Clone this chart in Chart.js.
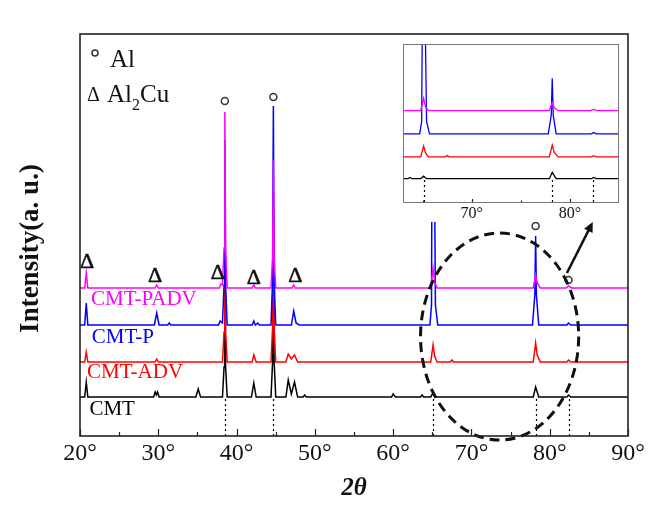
<!doctype html>
<html lang="en">
<head>
<meta charset="utf-8">
<title>XRD patterns</title>
<script src="https://cdn.jsdelivr.net/npm/chart.js"></script>
<style>
  body { margin: 0; background: #fff; }
  #wrap { position: relative; width: 655px; height: 513px; }
  #main { position: absolute; left: 0; top: 0; }
  #inset { position: absolute; left: 398px; top: 40px; background: #fff; }
</style>
</head>
<body>
<div id="wrap">
  <canvas id="main" width="655" height="513"></canvas>
  <canvas id="inset" width="226" height="182"></canvas>
</div>
<script>
// intensities (a.u., relative to each pattern's own baseline)
const cmtPadv = [[20,0],[20.6,0],[20.8,15],[21.0,0],[29.6,0],[29.8,3],[30.0,0],
  [37.8,0],[38.0,4],[38.2,3],[38.4,40],[38.5,176],[38.6,40],[38.8,0],
  [42.0,0],[42.2,3],[42.4,0],[44.4,0],[44.6,30],[44.7,128],[44.8,30],[45.0,0],
  [47.1,0],[47.3,3],[47.5,0],[64.8,0],[65.1,20],[65.3,6],[65.6,0],
  [77.9,0],[78.2,13],[78.4,5],[78.8,0],[82.1,0],[82.4,2],[82.8,0],[90,0]];
const cmtP = [[20,0],[20.6,0],[20.8,22],[21.0,0],[29.5,0],[29.8,12],[30.1,0],
  [31.2,0],[31.4,2],[31.6,0],[37.7,0],[37.9,4],[38.2,2],[38.4,40],[38.5,185],[38.6,40],[38.8,0],
  [42.0,0],[42.2,4],[42.4,0],[42.7,2],[42.9,0],[44.4,0],[44.6,45],[44.7,219],[44.8,45],[45.0,0],
  [47.0,0],[47.3,14],[47.6,2],[48.0,0],
  [64.7,0],[64.9,20],[65.0,260],[65.12,200],[65.2,250],[65.4,20],[65.7,0],
  [77.8,0],[78.1,30],[78.2,89],[78.3,30],[78.6,0],[82.2,0],[82.4,2],[82.7,0],[90,0]];
const cmtAdv = [[20,0],[20.6,0],[20.8,10],[21.0,0],[29.6,0],[29.8,3],[30.0,0],
  [38.2,0],[38.4,30],[38.5,150],[38.6,30],[38.8,0],[42.0,0],[42.2,7],[42.5,0],
  [44.4,0],[44.6,35],[44.7,170],[44.8,35],[45.0,0],[46.3,0],[46.6,8],[47.0,3],[47.4,7],[47.8,0],
  [64.8,0],[65.1,17],[65.3,6],[65.6,0],[67.3,0],[67.5,2],[67.7,0],
  [77.9,0],[78.2,19],[78.4,7],[78.8,0],[82.2,0],[82.4,2],[82.7,0],[90,0]];
const cmt = [[20,0],[20.6,0],[20.8,15],[21.0,0],[29.4,0],[29.6,5],[29.75,2],[29.9,5],[30.1,0],
  [34.8,0],[35.1,8],[35.4,0],[38.2,0],[38.4,30],[38.5,140],[38.6,30],[38.8,0],
  [41.9,0],[42.2,14],[42.5,0],[44.4,0],[44.6,35],[44.7,160],[44.8,35],[45.0,0],
  [46.3,0],[46.6,17],[47.0,3],[47.4,15],[47.8,0],[48.5,0],[48.7,2],[48.9,0],
  [59.8,0],[60.0,3],[60.3,0],[63.5,0],[63.7,2],[63.9,0],[64.8,0],[65.1,4],[65.4,0],
  [77.9,0],[78.2,10],[78.6,0],[82.2,0],[82.4,2],[82.7,0],[90,0]];

const seriesNames = ['CMT-PADV', 'CMT-P', 'CMT-ADV', 'CMT'];
const seriesData = [cmtPadv, cmtP, cmtAdv, cmt];
const seriesColors = ['#ff00ff', '#0000ff', '#ff0000', '#000000'];
const offsets = [148, 111, 74, 39];
const labelPos = [[21.4, 137], [21.5, 99], [20.9, 64], [21.2, 27]];

const xTicks = [20, 30, 40, 50, 60, 70, 80, 90];
const xMinor = [25, 35, 45, 55, 65, 75, 85];
const insetTicks = [70, 80];
const insetMinor = [65, 75];

const refLines = [38.5, 44.7, 65.1, 78.2, 82.4];
const alMarks = [[38.5, 335], [44.7, 339], [78.2, 210], [82.4, 156]];
const al2cuMarks = [[20.9, 174], [29.6, 160], [37.6, 163], [42.2, 158], [47.5, 160]];

const serif = "'Liberation Serif', 'Times New Roman', serif";

function makeSets(lw) {
  return seriesNames.map((name, i) => ({
    label: name,
    data: seriesData[i].map(p => ({ x: p[0], y: p[1] + offsets[i] })),
    borderColor: seriesColors[i],
    borderWidth: lw,
    pointRadius: 0,
    tension: 0,
    fill: false
  }));
}

function drawRefLines(chart) {
  const { ctx, chartArea: a, scales: { x, y } } = chart;
  ctx.save();
  ctx.strokeStyle = '#000';
  ctx.lineWidth = 1.2;
  ctx.setLineDash([2, 3]);
  refLines.forEach(v => {
    if (v < x.min || v > x.max) return;
    const px = Math.round(x.getPixelForValue(v)) + 0.5;
    ctx.beginPath();
    ctx.moveTo(px, y.getPixelForValue(offsets[3] - 2));
    ctx.lineTo(px, a.bottom);
    ctx.stroke();
  });
  ctx.restore();
}

function drawTicks(chart, major, minor, lMaj, lMin) {
  const { ctx, chartArea: a, scales: { x } } = chart;
  ctx.save();
  ctx.strokeStyle = '#222';
  ctx.lineWidth = 1.2;
  major.forEach(v => {
    const px = Math.round(x.getPixelForValue(v)) + 0.5;
    ctx.beginPath(); ctx.moveTo(px, a.bottom); ctx.lineTo(px, a.bottom - lMaj); ctx.stroke();
  });
  minor.forEach(v => {
    const px = Math.round(x.getPixelForValue(v)) + 0.5;
    ctx.beginPath(); ctx.moveTo(px, a.bottom); ctx.lineTo(px, a.bottom - lMin); ctx.stroke();
  });
  ctx.restore();
}

function circleMark(ctx, cx, cy, r) {
  ctx.beginPath();
  ctx.arc(cx, cy, r, 0, Math.PI * 2);
  ctx.stroke();
}

const mainDecor = {
  id: 'mainDecor',
  afterDatasetsDraw(chart) {
    const { ctx, chartArea: a, scales: { x, y } } = chart;
    drawRefLines(chart);
    drawTicks(chart, xTicks, xMinor, 7, 4);

    ctx.save();
    // phase markers
    ctx.strokeStyle = '#333';
    ctx.lineWidth = 1.5;
    alMarks.forEach(m => circleMark(ctx, x.getPixelForValue(m[0]), y.getPixelForValue(m[1]), 3.5));
    ctx.fillStyle = '#111';
    ctx.strokeStyle = '#111';
    ctx.lineWidth = 0.6;
    ctx.font = '22px ' + serif;
    ctx.textAlign = 'center';
    ctx.textBaseline = 'middle';
    al2cuMarks.forEach(m => {
      const px = x.getPixelForValue(m[0]), py = y.getPixelForValue(m[1]);
      ctx.fillText('Δ', px, py);
      ctx.strokeText('Δ', px, py);
    });

    // pattern names
    ctx.textAlign = 'left';
    ctx.font = '21px ' + serif;
    seriesNames.forEach((n, i) => {
      ctx.fillStyle = seriesColors[i];
      ctx.fillText(n, x.getPixelForValue(labelPos[i][0]), y.getPixelForValue(labelPos[i][1]));
    });

    // key
    ctx.fillStyle = '#111';
    ctx.strokeStyle = '#333';
    ctx.lineWidth = 1.5;
    ctx.textBaseline = 'alphabetic';
    circleMark(ctx, a.left + 15, a.top + 19, 3);
    ctx.font = '25px ' + serif;
    ctx.fillText('Al', a.left + 30, a.top + 33);
    ctx.font = '20px ' + serif;
    ctx.textAlign = 'center';
    ctx.fillText('Δ', a.left + 13.5, a.top + 67);
    ctx.textAlign = 'left';
    let tx = a.left + 27;
    ctx.font = '25px ' + serif;
    ctx.fillText('Al', tx, a.top + 68);
    tx += ctx.measureText('Al').width;
    ctx.font = '16px ' + serif;
    ctx.fillText('2', tx, a.top + 76);
    tx += ctx.measureText('2').width;
    ctx.font = '25px ' + serif;
    ctx.fillText('Cu', tx, a.top + 68);

    // dashed ellipse around the high-angle region
    const cx = x.getPixelForValue(73.6), cy = y.getPixelForValue(99.5);
    const rx = x.getPixelForValue(73.6 + 10.1) - cx;
    const ry = cy - y.getPixelForValue(99.5 + 103.5);
    ctx.strokeStyle = '#111';
    ctx.lineWidth = 3;
    ctx.setLineDash([10, 6]);
    ctx.beginPath();
    ctx.ellipse(cx, cy, rx, ry, 0, 0, Math.PI * 2);
    ctx.stroke();
    ctx.setLineDash([]);

    // arrow to the inset
    const x1 = x.getPixelForValue(82.2), y1 = y.getPixelForValue(163);
    const x2 = x.getPixelForValue(85.5), y2 = y.getPixelForValue(214);
    const ang = Math.atan2(y2 - y1, x2 - x1);
    ctx.lineWidth = 2.5;
    ctx.beginPath(); ctx.moveTo(x1, y1); ctx.lineTo(x2 - 4 * Math.cos(ang), y2 - 4 * Math.sin(ang)); ctx.stroke();
    ctx.fillStyle = '#111';
    ctx.beginPath();
    ctx.moveTo(x2, y2);
    ctx.lineTo(x2 - 11 * Math.cos(ang - 0.45), y2 - 11 * Math.sin(ang - 0.45));
    ctx.lineTo(x2 - 11 * Math.cos(ang + 0.45), y2 - 11 * Math.sin(ang + 0.45));
    ctx.closePath();
    ctx.fill();

    // frame
    ctx.strokeStyle = '#222';
    ctx.lineWidth = 1.6;
    ctx.strokeRect(a.left, a.top, a.right - a.left, a.bottom - a.top);
    ctx.restore();
  }
};

const insetDecor = {
  id: 'insetDecor',
  beforeDraw(chart) {
    const { ctx, width, height } = chart;
    ctx.save();
    ctx.fillStyle = '#fff';
    ctx.fillRect(0, 0, width, height);
    ctx.restore();
  },
  afterDatasetsDraw(chart) {
    const { ctx, chartArea: a } = chart;
    drawRefLines(chart);
    drawTicks(chart, insetTicks, insetMinor, 4, 2.5);
    ctx.save();
    ctx.strokeStyle = '#777';
    ctx.lineWidth = 1;
    ctx.strokeRect(a.left + 0.5, a.top + 0.5, a.right - a.left - 1, a.bottom - a.top - 1);
    ctx.restore();
  }
};

new Chart(document.getElementById('main'), {
  type: 'line',
  data: { datasets: makeSets(1.5) },
  options: {
    responsive: false,
    animation: false,
    layout: { padding: { top: 34, right: 27, left: 0, bottom: 0 } },
    plugins: { legend: { display: false }, tooltip: { enabled: false } },
    scales: {
      x: {
        type: 'linear', min: 20, max: 90,
        afterBuildTicks: s => { s.ticks = xTicks.map(v => ({ value: v })); },
        afterFit: s => { s.height = 77; },
        grid: { display: false, drawTicks: false },
        border: { display: false },
        ticks: { color: '#111', padding: 3, maxRotation: 0, font: { family: serif, size: 24 }, callback: v => v + '°' },
        title: { display: true, text: '2θ', color: '#111', padding: { top: 0, bottom: 9 },
                 font: { family: serif, size: 25, weight: 'bold', style: 'italic' } }
      },
      y: {
        min: 0, max: 402,
        afterFit: s => { s.width = 80; },
        grid: { display: false, drawTicks: false },
        border: { display: false },
        ticks: { display: false },
        title: { display: true, text: 'Intensity(a. u.)    ', color: '#111', padding: { top: 15, bottom: 0 },
                 font: { family: serif, size: 27, weight: 'bold' } }
      }
    }
  },
  plugins: [mainDecor]
});

new Chart(document.getElementById('inset'), {
  type: 'line',
  data: { datasets: makeSets(1.3) },
  options: {
    responsive: false,
    animation: false,
    layout: { padding: { top: 4, right: 5, left: 5, bottom: 0 } },
    plugins: { legend: { display: false }, tooltip: { enabled: false } },
    scales: {
      x: {
        type: 'linear', min: 63, max: 85,
        afterBuildTicks: s => { s.ticks = insetTicks.map(v => ({ value: v })); },
        afterFit: s => { s.height = 19; },
        grid: { display: false, drawTicks: false },
        border: { display: false },
        ticks: { color: '#111', padding: 1, maxRotation: 0, font: { family: serif, size: 16 }, callback: v => v + '°' }
      },
      y: { display: false, min: 0, max: 255 }
    }
  },
  plugins: [insetDecor]
});
</script>
</body>
</html>
